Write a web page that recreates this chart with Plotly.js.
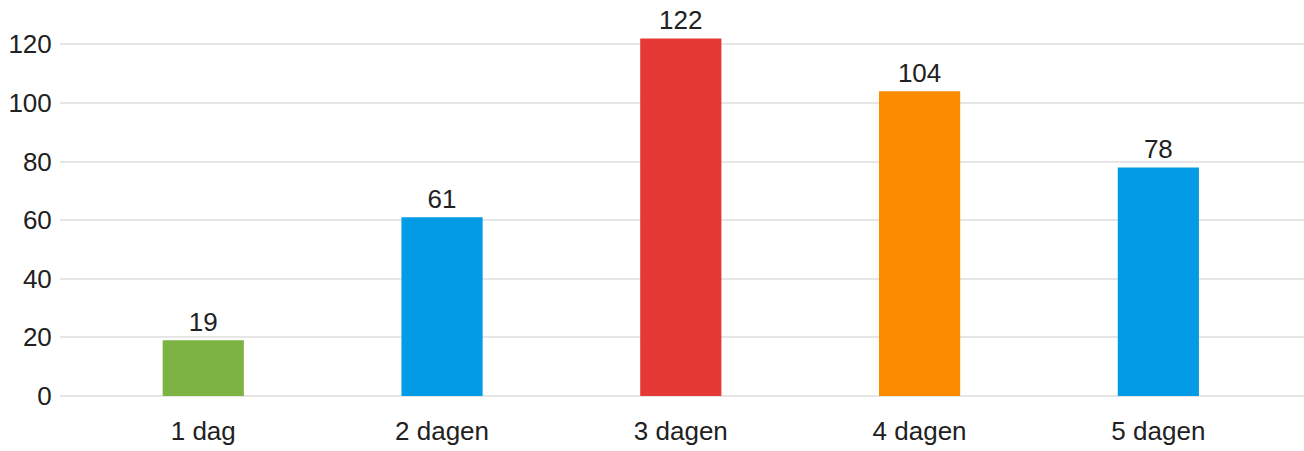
<!DOCTYPE html>
<html>
<head>
<meta charset="utf-8">
<script src="https://cdn.plot.ly/plotly-3.0.1.min.js"></script>
<style>html,body{margin:0;padding:0;background:#fff}#chart{width:1304px;height:451px}</style>
</head>
<body>
<div id="chart"></div>
<script>
var categories = ["1 dag", "2 dagen", "3 dagen", "4 dagen", "5 dagen"];
var values = [19, 61, 122, 104, 78];
var barColors = ["#7cb342", "#039be5", "#e53935", "#fb8c00", "#039be5"];
var yTicks = [0, 20, 40, 60, 80, 100, 120];

var trace = {
  type: "bar",
  x: categories,
  y: values,
  marker: {color: barColors, line: {width: 0}},
  text: values.map(String),
  textposition: "outside",
  cliponaxis: false,
  textfont: {family: "Liberation Sans, Arial, sans-serif", size: 26, color: "#212121"},
  hoverinfo: "none"
};

var layout = {
  width: 1304,
  height: 451,
  margin: {l: 60, r: 0, t: 15, b: 55},
  paper_bgcolor: "#ffffff",
  plot_bgcolor: "#ffffff",
  showlegend: false,
  bargap: 0.66,
  font: {family: "Liberation Sans, Arial, sans-serif", size: 26, color: "#212121"},
  xaxis: {
    type: "category",
    range: [-0.6, 4.61],
    showgrid: false,
    zeroline: false,
    showline: false,
    ticks: "outside",
    ticklen: 12,
    tickcolor: "rgba(0,0,0,0)",
    tickfont: {size: 26, color: "#212121"},
    fixedrange: true
  },
  yaxis: {
    range: [0, 130],
    tickvals: yTicks,
    ticktext: yTicks.map(String),
    showgrid: true,
    gridcolor: "#e6e6e6",
    gridwidth: 2,
    zeroline: true,
    zerolinecolor: "#e6e6e6",
    zerolinewidth: 2,
    showline: false,
    ticks: "outside",
    ticklen: 2,
    tickcolor: "rgba(0,0,0,0)",
    tickfont: {size: 26, color: "#212121"},
    fixedrange: true
  }
};

Plotly.newPlot("chart", [trace], layout, {displayModeBar: false, staticPlot: true});
</script>
</body>
</html>
